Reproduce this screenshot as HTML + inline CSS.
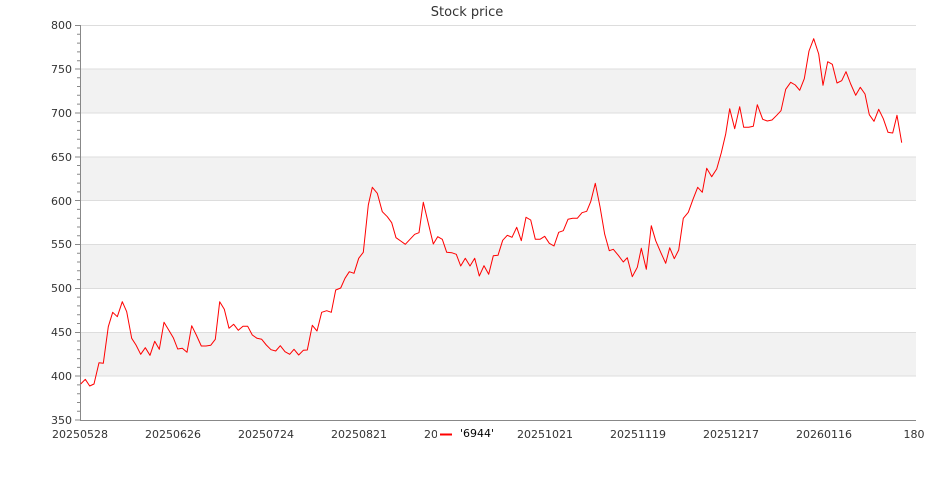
<!DOCTYPE html>
<html><head><meta charset="utf-8"><style>
html,body{margin:0;padding:0;background:#fff;}
svg{display:block;font-family:"DejaVu Sans","Liberation Sans",sans-serif;}
</style></head><body>
<svg width="935" height="500" viewBox="0 0 935 500" xmlns="http://www.w3.org/2000/svg">
<rect width="935" height="500" fill="#fff"/>
<g fill="#f2f2f2">
<rect x="80" y="68.9" width="836" height="43.9"/>
<rect x="80" y="156.7" width="836" height="43.9"/>
<rect x="80" y="244.4" width="836" height="43.9"/>
<rect x="80" y="332.2" width="836" height="43.9"/>
</g>
<g stroke="#dddddd" stroke-width="1">
<line x1="80" x2="916" y1="25.5" y2="25.5"/>
<line x1="80" x2="916" y1="69" y2="69"/>
<line x1="80" x2="916" y1="113" y2="113"/>
<line x1="80" x2="916" y1="157" y2="157"/>
<line x1="80" x2="916" y1="200.5" y2="200.5"/>
<line x1="80" x2="916" y1="244.5" y2="244.5"/>
<line x1="80" x2="916" y1="288.5" y2="288.5"/>
<line x1="80" x2="916" y1="332.5" y2="332.5"/>
<line x1="80" x2="916" y1="376" y2="376"/>
</g>
<g stroke="#888" stroke-width="1" fill="none">
<line x1="80.5" y1="25" x2="80.5" y2="420"/>
<line x1="80" y1="420.5" x2="916" y2="420.5"/>
<path d="M75 25.5H80M75 69H80M75 113H80M75 157H80M75 200.5H80M75 244.5H80M75 288.5H80M75 332.5H80M75 376H80M75 420H80
M77 34.3H80M77 43.1H80M77 51.9H80M77 60.7H80M77 77.7H80M77 86.5H80M77 95.3H80M77 104.1H80
M77 121.6H80M77 130.4H80M77 139.2H80M77 148H80M77 165.5H80M77 174.3H80M77 183.1H80M77 191.9H80
M77 209.4H80M77 218.2H80M77 227H80M77 235.8H80M77 253.2H80M77 262H80M77 270.8H80M77 279.6H80
M77 297.1H80M77 305.9H80M77 314.7H80M77 323.5H80M77 341H80M77 349.8H80M77 358.6H80M77 367.4H80
M77 384.9H80M77 393.7H80M77 402.5H80M77 411.3H80"/>
</g>
<g font-size="11" fill="#333" text-anchor="end">
<text x="72" y="29">800</text>
<text x="72" y="73">750</text>
<text x="72" y="117">700</text>
<text x="72" y="161">650</text>
<text x="72" y="205">600</text>
<text x="72" y="248">550</text>
<text x="72" y="292">500</text>
<text x="72" y="336">450</text>
<text x="72" y="380">400</text>
<text x="72" y="424">350</text>
</g>
<g font-size="11" fill="#333" text-anchor="middle">
<text x="80" y="438">20250528</text>
<text x="173" y="438">20250626</text>
<text x="266" y="438">20250724</text>
<text x="359" y="438">20250821</text>
<text x="452" y="438">20250919</text>
<text x="545" y="438">20251021</text>
<text x="638" y="438">20251119</text>
<text x="731" y="438">20251217</text>
<text x="824" y="438">20260116</text>
<text x="914" y="438">180</text>
</g>
<rect x="437" y="424" width="62" height="20" fill="#fff"/>
<line x1="440" y1="434.5" x2="452" y2="434.5" stroke="#f00" stroke-width="2"/>
<text x="460" y="437" font-size="11" fill="#000">'6944'</text>
<text x="467" y="16" font-size="13" fill="#333" text-anchor="middle">Stock price</text>
<polyline fill="none" stroke="#ff0000" stroke-width="1" stroke-linejoin="round" points="
80.7,384 85.3,379.3 89.7,386 94,384 99,362.7 103.3,363.3 108.3,326.7 112.7,312.3 117.3,316.7 122.3,301.7 126.7,311.7 131.7,338.3 136,345 140.7,354.3 145.3,347.7 150,355.3 154.7,341.3 159.3,349.3 164,322.3 168.7,330 173.3,337.7 177.7,349 182.3,348.3 187,352.3 191.7,325.7 196.3,335 201.3,346 206,346 210.7,345.3 215.3,339.3 219.7,301.7 224.3,309.3 229,328.3 233.7,324.3 238.3,330.3 243,326.3 247.7,326.3 252.3,335 257,338.3 261.7,339.3 266.3,345 271,349.7 275.7,351 280.3,345.7 285,351.7 289.7,354.3 294,349.3 298.7,355 303.3,350.3 307.3,350 312.3,325.3 317,331 321.7,312.3 326.7,310.7 331.3,312.3 335.7,290 340.7,288 345,278.3 349.3,271.7 354,273.3 358.7,258.3 363.3,252.3 368.3,205 372.3,187.3 377.3,193.3 382.3,211.7 387.3,216.7 391.7,222.7 396,237.7 400.7,241 405.3,244.3 410,239.3 414.7,234.3 419,232.7 423.3,202.3 428.3,223.3 433.3,244 437.7,236.7 442.3,239.3 446.7,252.3 451.7,252.7 456.3,254.3 460.7,266 465.3,258.3 470,266 474.7,258.3 479.3,276 484,265.7 488.7,274.3 493.3,255.7 498,255.3 502.7,240.3 507.3,235.3 512,237.3 516.7,227.3 521.3,240.7 526,217.3 530.7,220 535.3,239.3 540,239.3 544.7,236.3 549.3,243.3 554,246 558.7,232.3 563.3,230.7 568,219.3 572.7,218.3 577.3,218.3 582,212.7 586.7,211.3 590.7,201.7 595.3,183.3 600,206.7 604.7,234.3 609.3,250.7 613.3,249.3 618.3,255.3 623.3,262 627.3,257.7 632.3,276.7 637.3,267.3 641.3,248.3 646.3,269.3 651.3,225.7 655.7,240.7 660.7,252.3 665.7,263.3 669.7,247.7 674.3,258.7 678.7,250 683.3,218.3 688.3,212.3 693,199.3 697.7,187.3 702.3,192.3 706.7,168.3 711.7,176.7 716.7,169 721.3,152.7 725.7,134 729.7,108.7 734.7,128.7 739.7,106.7 743.7,127.3 748.7,127.3 753.3,126.3 757.3,104.7 762.7,119.3 767.3,121 772,120 776.7,115.3 781,110.7 785.7,89.3 790.7,82.3 795.3,85 799.7,90.3 804.3,78.7 809,51 813.7,38.7 818.7,54 823,85.3 827.7,61.7 832.3,64.3 837,83 841.7,80.7 846,71.7 850.7,84 855.7,95.3 860.3,87.3 865,94 869.3,114.7 874,121.3 878.7,109.3 883.3,118.7 888,132.3 892.7,133 897,115.3 901.7,142.7"/>
</svg>
</body></html>
